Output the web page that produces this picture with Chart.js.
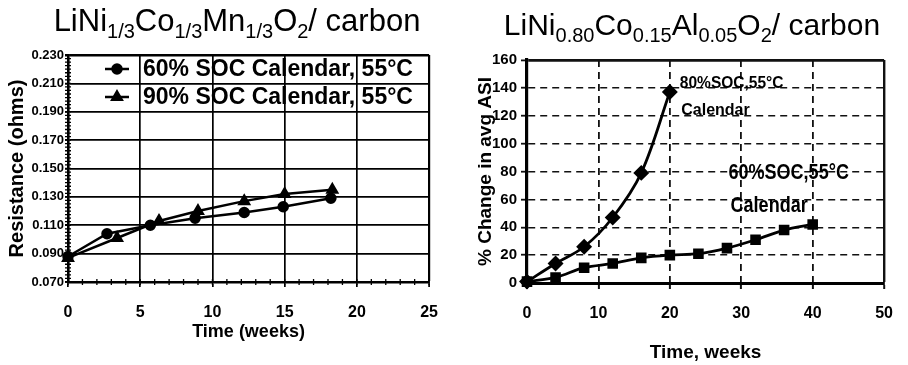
<!DOCTYPE html>
<html>
<head>
<meta charset="utf-8">
<script src="https://cdn.jsdelivr.net/npm/chart.js@4.4.1/dist/chart.umd.min.js"></script>
<style>
  html, body { margin: 0; padding: 0; background: #fff; }
  .wrap { position: relative; width: 908px; height: 365px; overflow: hidden; }
  .box { position: absolute; top: 0; width: 454px; height: 365px; }
  #leftBox { left: 0; }
  #rightBox { left: 454px; }
</style>
</head>
<body>
<div class="wrap">
  <div class="box" id="leftBox"><canvas id="nmcChart" width="454" height="365"></canvas></div>
  <div class="box" id="rightBox"><canvas id="ncaChart" width="454" height="365"></canvas></div>
</div>
<script>
// NMC / carbon cell: resistance growth during calendar ageing at 55°C
const nmcWeeks60 = [0, 2.7, 5.7, 8.8, 12.2, 14.9, 18.2];
const nmcRes60   = [0.088, 0.104, 0.110, 0.115, 0.119, 0.123, 0.129];
const nmcWeeks90 = [0, 3.4, 6.3, 9.0, 12.2, 15.0, 18.3];
const nmcRes90   = [0.087, 0.101, 0.113, 0.120, 0.127, 0.132, 0.135];
const nmcXTicks  = [0, 5, 10, 15, 20, 25];
const nmcYTicks  = [0.07, 0.09, 0.11, 0.13, 0.15, 0.17, 0.19, 0.21, 0.23];

// NCA / carbon cell: % change in average ASI
const ncaWeeks80 = [0, 4, 8, 12, 16, 20];
const ncaAsi80   = [1, 14, 26, 47, 79, 137];
const ncaWeeks60 = [0, 4, 8, 12, 16, 20, 24, 28, 32, 36, 40];
const ncaAsi60   = [1, 4, 11, 14, 18, 20, 21, 25, 31, 38, 42];
const ncaXTicks  = [0, 10, 20, 30, 40, 50];
const ncaYTicks  = [0, 20, 40, 60, 80, 100, 120, 140, 160];

const SANS = '"Liberation Sans", Arial, Helvetica, sans-serif';

Chart.defaults.color = '#000';
Chart.defaults.font.family = SANS;

function toPoints(xs, ys) {
    return xs.map((x, i) => ({ x: x, y: ys[i] }));
}

function fixedTicks(values) {
    return scale => { scale.ticks = values.map(v => ({ value: v })); };
}

// chemical formula titles, subscripts drawn smaller and lower
const richTitle = {
    id: 'richTitle',
    afterDraw(chart, args, opts) {
        if (!opts.parts) return;
        const ctx = chart.ctx;
        const small = Math.round(opts.size * 0.66);
        const fontOf = p => (p[1] ? small : opts.size) + 'px ' + SANS;
        ctx.save();
        ctx.fillStyle = '#000';
        ctx.textAlign = 'left';
        ctx.textBaseline = 'alphabetic';
        let w = 0;
        opts.parts.forEach(p => { ctx.font = fontOf(p); w += ctx.measureText(p[0]).width; });
        let x = opts.cx - w / 2;
        opts.parts.forEach(p => {
            ctx.font = fontOf(p);
            ctx.fillText(p[0], x, opts.baseline + (p[1] ? opts.subShift : 0));
            x += ctx.measureText(p[0]).width;
        });
        ctx.restore();
    }
};

// small crossing ticks along the axes
const minorTicks = {
    id: 'minorTicks',
    afterDraw(chart, args, opts) {
        const { ctx, chartArea, scales } = chart;
        ctx.save();
        ctx.strokeStyle = '#000';
        ctx.lineWidth = 1.3;
        ctx.beginPath();
        if (opts.xStep) {
            const sx = scales.x;
            for (let v = sx.min; v <= sx.max + 1e-9; v += opts.xStep) {
                const px = sx.getPixelForValue(v);
                ctx.moveTo(px, chartArea.bottom - opts.len);
                ctx.lineTo(px, chartArea.bottom + opts.len);
            }
        }
        if (opts.yStep) {
            const sy = scales.y;
            for (let v = sy.min; v <= sy.max + 1e-9; v += opts.yStep) {
                const py = sy.getPixelForValue(v);
                ctx.moveTo(chartArea.left - opts.len, py);
                ctx.lineTo(chartArea.left + opts.len, py);
            }
        }
        ctx.stroke();
        ctx.restore();
    }
};

// legend drawn inside the plot area, line sample with marker
const boxLegend = {
    id: 'boxLegend',
    afterDatasetsDraw(chart, args, opts) {
        if (!opts.rowGap) return;
        const { ctx, chartArea } = chart;
        ctx.save();
        chart.data.datasets.forEach((ds, i) => {
            const y = chartArea.top + opts.top + i * opts.rowGap;
            const x0 = chartArea.left + opts.left;
            ctx.strokeStyle = '#000';
            ctx.fillStyle = '#000';
            ctx.lineWidth = 2.5;
            ctx.beginPath();
            ctx.moveTo(x0, y);
            ctx.lineTo(x0 + opts.lineLen, y);
            ctx.stroke();
            Chart.helpers.drawPoint(ctx, {
                pointStyle: ds.pointStyle, radius: ds.pointRadius, borderWidth: 1, rotation: 0
            }, x0 + opts.lineLen / 2, y);
            ctx.font = 'bold ' + opts.fontSize + 'px ' + SANS;
            ctx.textAlign = 'left';
            ctx.textBaseline = 'middle';
            ctx.fillText(ds.label, chartArea.left + opts.textLeft, y + 1);
        });
        ctx.restore();
    }
};

// text labels placed next to the curves, anchored in data units
const curveNotes = {
    id: 'curveNotes',
    afterDatasetsDraw(chart, args, opts) {
        if (!opts.items) return;
        const { ctx, scales } = chart;
        opts.items.forEach(n => {
            ctx.save();
            ctx.fillStyle = '#000';
            ctx.textAlign = 'left';
            ctx.textBaseline = 'middle';
            ctx.font = n.font;
            ctx.translate(scales.x.getPixelForValue(n.x), scales.y.getPixelForValue(n.y));
            ctx.scale(n.squeeze || 1, 1);
            ctx.fillText(n.text, 0, 0);
            ctx.restore();
        });
    }
};

Chart.register(richTitle, minorTicks, boxLegend, curveNotes);

// Chart 1
new Chart(document.getElementById('nmcChart'), {
    type: 'scatter',
    data: {
        datasets: [
            {
                label: '60% SOC Calendar, 55°C',
                data: toPoints(nmcWeeks60, nmcRes60),
                showLine: true,
                borderColor: '#000',
                backgroundColor: '#000',
                borderWidth: 2.5,
                pointStyle: 'circle',
                pointRadius: 4.5,
                clip: false
            },
            {
                label: '90% SOC Calendar, 55°C',
                data: toPoints(nmcWeeks90, nmcRes90),
                showLine: true,
                borderColor: '#000',
                backgroundColor: '#000',
                borderWidth: 2.5,
                pointStyle: 'triangle',
                pointRadius: 5.5,
                clip: false
            }
        ]
    },
    options: {
        responsive: false,
        animation: false,
        layout: { padding: { top: 55, right: 21, left: 0, bottom: 0 } },
        plugins: {
            legend: { display: false },
            tooltip: { enabled: false },
            richTitle: {
                parts: [['LiNi'], ['1/3', 1], ['Co'], ['1/3', 1], ['Mn'], ['1/3', 1], ['O'], ['2', 1], ['/ carbon']],
                size: 31, cx: 237, baseline: 31, subShift: 7
            },
            minorTicks: { xStep: 1, yStep: 0.0025, len: 3 },
            boxLegend: { top: 14, rowGap: 28, left: 37, lineLen: 24, textLeft: 75, fontSize: 23 }
        },
        scales: {
            x: {
                type: 'linear',
                min: 0,
                max: 25,
                afterBuildTicks: fixedTicks(nmcXTicks),
                afterFit: s => { s.height = 83; },
                ticks: { font: { size: 16, weight: 'bold' }, padding: 16, maxRotation: 0 },
                grid: {
                    color: '#000',
                    lineWidth: c => (c.tick && c.tick.value === 25 ? 2.2 : 1.7),
                    tickLength: 5,
                    tickWidth: 1.7
                },
                border: { color: '#000', width: 2.6 },
                title: {
                    display: true,
                    text: 'Time (weeks)',
                    font: { size: 18, weight: 'bold' },
                    padding: { top: 0, bottom: 22 }
                }
            },
            y: {
                min: 0.07,
                max: 0.23,
                afterBuildTicks: fixedTicks(nmcYTicks),
                afterFit: s => { s.width = 68; },
                ticks: {
                    font: { size: 13, weight: 'bold' },
                    padding: 1,
                    callback: v => v.toFixed(3)
                },
                grid: {
                    color: '#000',
                    lineWidth: c => (c.tick && c.tick.value > 0.229 ? 2.4 : 1.7),
                    tickLength: 3
                },
                border: { color: '#000', width: 2.6 },
                title: {
                    display: true,
                    text: 'Resistance (ohms)',
                    font: { size: 20, weight: 'bold' },
                    padding: { top: 5, bottom: 0 }
                }
            }
        }
    }
});

// Chart 2
const ncaDash = c => (c.tick && c.tick.value !== 50 && c.tick.value !== 160 ? [7, 5] : []);

new Chart(document.getElementById('ncaChart'), {
    type: 'scatter',
    data: {
        datasets: [
            {
                label: '80%SOC,55°C Calendar',
                data: toPoints(ncaWeeks80, ncaAsi80),
                showLine: true,
                tension: 0.35,
                borderColor: '#000',
                backgroundColor: '#000',
                borderWidth: 2.8,
                pointStyle: 'rectRot',
                pointRadius: 6,
                clip: false
            },
            {
                label: '60%SOC,55°C Calendar',
                data: toPoints(ncaWeeks60, ncaAsi60),
                showLine: true,
                tension: 0.35,
                borderColor: '#000',
                backgroundColor: '#000',
                borderWidth: 2.8,
                pointStyle: 'rect',
                pointRadius: 5.5,
                clip: false
            }
        ]
    },
    options: {
        responsive: false,
        animation: false,
        layout: { padding: { top: 60, right: 16, left: 0, bottom: 0 } },
        plugins: {
            legend: { display: false },
            tooltip: { enabled: false },
            richTitle: {
                parts: [['LiNi'], ['0.80', 1], ['Co'], ['0.15', 1], ['Al'], ['0.05', 1], ['O'], ['2', 1], ['/ carbon']],
                size: 30, cx: 238, baseline: 35, subShift: 7
            },
            curveNotes: {
                items: [
                    { text: '80%SOC,55°C', x: 21.4, y: 143, font: 'bold 16px ' + SANS, squeeze: 0.97 },
                    { text: 'Calendar', x: 21.6, y: 124, font: 'bold 16px ' + SANS, squeeze: 1 },
                    { text: '60%SOC,55°C', x: 28.2, y: 79, font: 'bold 22px ' + SANS, squeeze: 0.82 },
                    { text: 'Calendar', x: 28.5, y: 55, font: 'bold 22px ' + SANS, squeeze: 0.82 }
                ]
            }
        },
        scales: {
            x: {
                type: 'linear',
                min: 0,
                max: 50,
                afterBuildTicks: fixedTicks(ncaXTicks),
                afterFit: s => { s.height = 82; },
                ticks: { font: { size: 16, weight: 'bold' }, padding: 15, maxRotation: 0 },
                grid: {
                    color: '#111',
                    lineWidth: c => (c.tick && c.tick.value === 50 ? 2.4 : 1.8),
                    tickLength: 6,
                    tickWidth: 2
                },
                border: { color: '#000', width: 3, dash: ncaDash },
                title: {
                    display: true,
                    text: 'Time, weeks',
                    font: { size: 19, weight: 'bold' },
                    padding: { top: 0, bottom: 1 }
                }
            },
            y: {
                min: 0,
                max: 160,
                afterBuildTicks: fixedTicks(ncaYTicks),
                afterFit: s => { s.width = 73; },
                ticks: { font: { size: 15, weight: 'bold' }, padding: 4 },
                grid: {
                    color: '#111',
                    lineWidth: c => (c.tick && c.tick.value === 160 ? 2.8 : 1.4),
                    tickLength: 6,
                    tickWidth: 1.8
                },
                border: { color: '#000', width: 3.2, dash: ncaDash },
                title: {
                    display: true,
                    text: '% Change in avg ASI',
                    font: { size: 19, weight: 'bold' },
                    padding: { top: 20, bottom: 0 }
                }
            }
        }
    }
});
</script>
</body>
</html>
